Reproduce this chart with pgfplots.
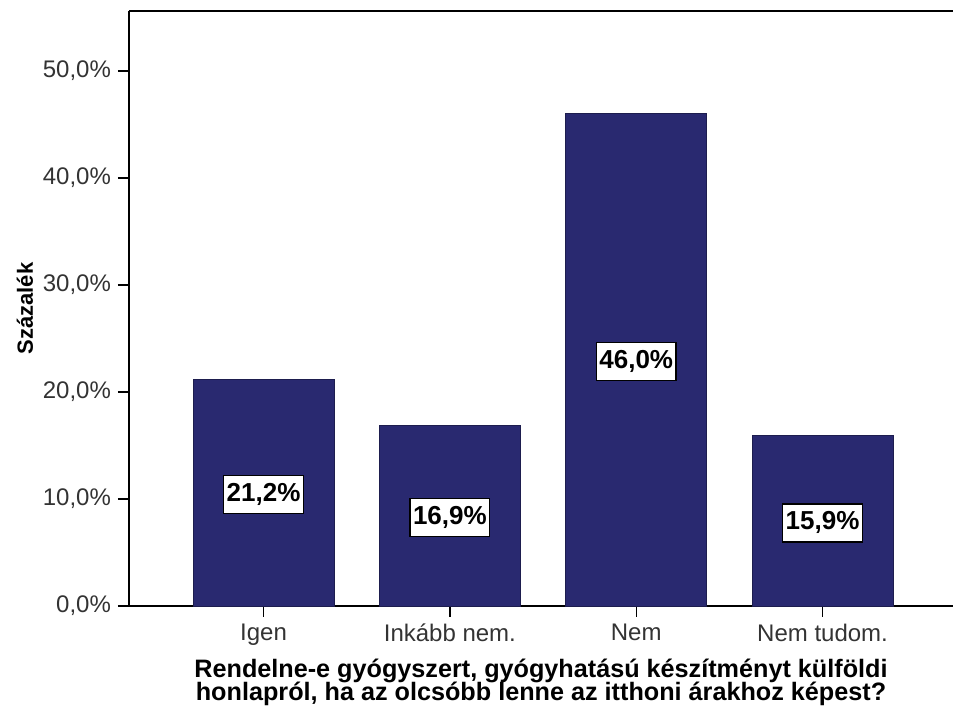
\documentclass[border=0pt]{standalone}
\usepackage{pgfplots}
\pgfplotsset{compat=1.18}
\usepackage{pgfplotstable}
\usepackage{fontspec}
\setmainfont{Liberation Sans}

\definecolor{barblue}{RGB}{41,41,112}

% percentages of answers, categories at 0..3
\pgfplotstableread{
x  y     lab
0  21.2  {21,2\%}
1  16.9  {16,9\%}
2  46.0  {46,0\%}
3  15.9  {15,9\%}
}\answers

\begin{document}
\begin{tikzpicture}
\begin{axis}[
    scale only axis,
    width=412pt, height=297.5pt,
    xmin=-0.722, xmax=3.70,
    ymin=0, ymax=55.6,
    axis x line*=bottom, axis y line*=left,
    axis line style={line width=0.7pt, black},
    tick align=outside,
    major tick length=5.5pt,
    tick style={line width=0.7pt, black},
    xtick={0,1,2,3},
    xticklabels={Igen, Inkább nem., Nem, Nem tudom.},
    ytick={0,10,20,30,40,50},
    yticklabel={\pgfmathprintnumber[fixed, fixed zerofill, precision=1, use comma]{\tick}\%},
    /pgf/number format/assume math mode=true,
    ticklabel style={font=\fontsize{12}{14}\selectfont, text=black!80},
    xlabel={Rendelne-e gyógyszert, gyógyhatású készítményt külföldi\\[-0.8pt]honlapról, ha az olcsóbb lenne az itthoni árakhoz képest?},
    xlabel style={font=\bfseries\fontsize{12.6}{12}\selectfont, align=center, yshift=0pt},
    ylabel={Százalék},
    ylabel style={font=\bfseries\fontsize{11}{13}\selectfont, yshift=-2pt},
    clip=false,
]
\addplot[ybar, bar width=0.757, fill=barblue, draw=barblue!70!black, line width=0.4pt]
    table[x=x, y=y] {\answers};
\addplot[draw=none, mark=none, nodes near coords, point meta=explicit symbolic,
    every node near coord/.append style={anchor=center, fill=white, draw=black,
        line width=0.6pt, font=\bfseries\fontsize{13}{15}\selectfont,
        inner xsep=1.5pt, minimum height=19pt, yshift=-1pt}]
    table[x=x, y expr=\thisrow{y}/2, meta=lab] {\answers};
\draw[line width=0.7pt, black] (rel axis cs:0,1) -- (rel axis cs:1,1);
\end{axis}
\pgfresetboundingbox
\path[use as bounding box] ([xshift=-64.5pt, yshift=-52.5pt]current axis.south west)
    rectangle ([yshift=5.5pt]current axis.north east);
\end{tikzpicture}
\end{document}
